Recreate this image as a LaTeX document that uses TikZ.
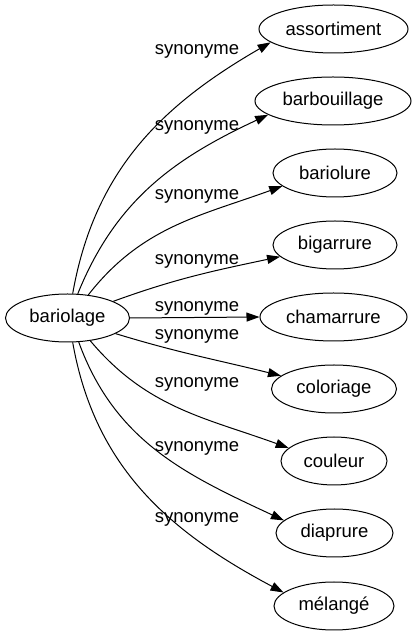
\documentclass[tikz,border=0pt]{standalone}
\usepackage{fontspec}
\setmainfont{Liberation Sans}
\usetikzlibrary{arrows.meta,shapes.geometric}
\begin{document}
\begin{tikzpicture}[x=1pt,y=1pt,
  every node/.style={font=\fontsize{18.5}{20}\selectfont},
  word/.style={draw,ellipse,line width=1pt,minimum height=48pt,inner sep=0pt},
  lab/.style={anchor=base,inner sep=0pt},
  conn/.style={line width=1pt,-{Triangle[length=13pt,width=9pt]}}]
\useasboundingbox (0,0) rectangle (419,635);
\node[word,minimum width=124pt] (b) at (67.5,317) {bariolage};
\node[word,minimum width=149pt] (n1) at (333.5,606) {assortiment};
\node[word,minimum width=156pt] (n2) at (333,534) {barbouillage};
\node[word,minimum width=124pt] (n3) at (335,462) {bariolure};
\node[word,minimum width=124pt] (n4) at (335,390) {bigarrure};
\node[word,minimum width=147pt] (n5) at (333.5,318) {chamarrure};
\node[word,minimum width=125pt] (n6) at (334,246) {coloriage};
\node[word,minimum width=106pt] (n7) at (334,174) {couleur};
\node[word,minimum width=117pt] (n8) at (334.5,102) {diaprure};
\node[word,minimum width=120pt] (n9) at (334,29) {mélangé};
\node[lab] (l1) at (197,580) {synonyme};
\node[lab] (l2) at (197,504) {synonyme};
\node[lab] (l3) at (197,435) {synonyme};
\node[lab] (l4) at (197,370) {synonyme};
\node[lab] (l5) at (197,323) {synonyme};
\node[lab] (l6) at (197,295) {synonyme};
\node[lab] (l7) at (197,247) {synonyme};
\node[lab] (l8) at (197,183) {synonyme};
\node[lab] (l9) at (197,112) {synonyme};
\draw[conn] (b.78) to[out=80,in=210] (n1.192);
\draw[conn] (b.67) to[out=68,in=205] (n2.192);
\draw[conn] (b.48) to[out=52,in=200] (n3.194);
\draw[conn] (b.20) to[out=20,in=192] (n4.192);
\draw[conn] (b.east) -- (n5.west);
\draw[conn] (b.-18) to[out=-17,in=166] (n6.166);
\draw[conn] (b.-45) to[out=-50,in=160] (n7.164);
\draw[conn] (b.-65) to[out=-70,in=155] (n8.166);
\draw[conn] (b.-78) to[out=-80,in=152] (n9.165);
\end{tikzpicture}
\end{document}
